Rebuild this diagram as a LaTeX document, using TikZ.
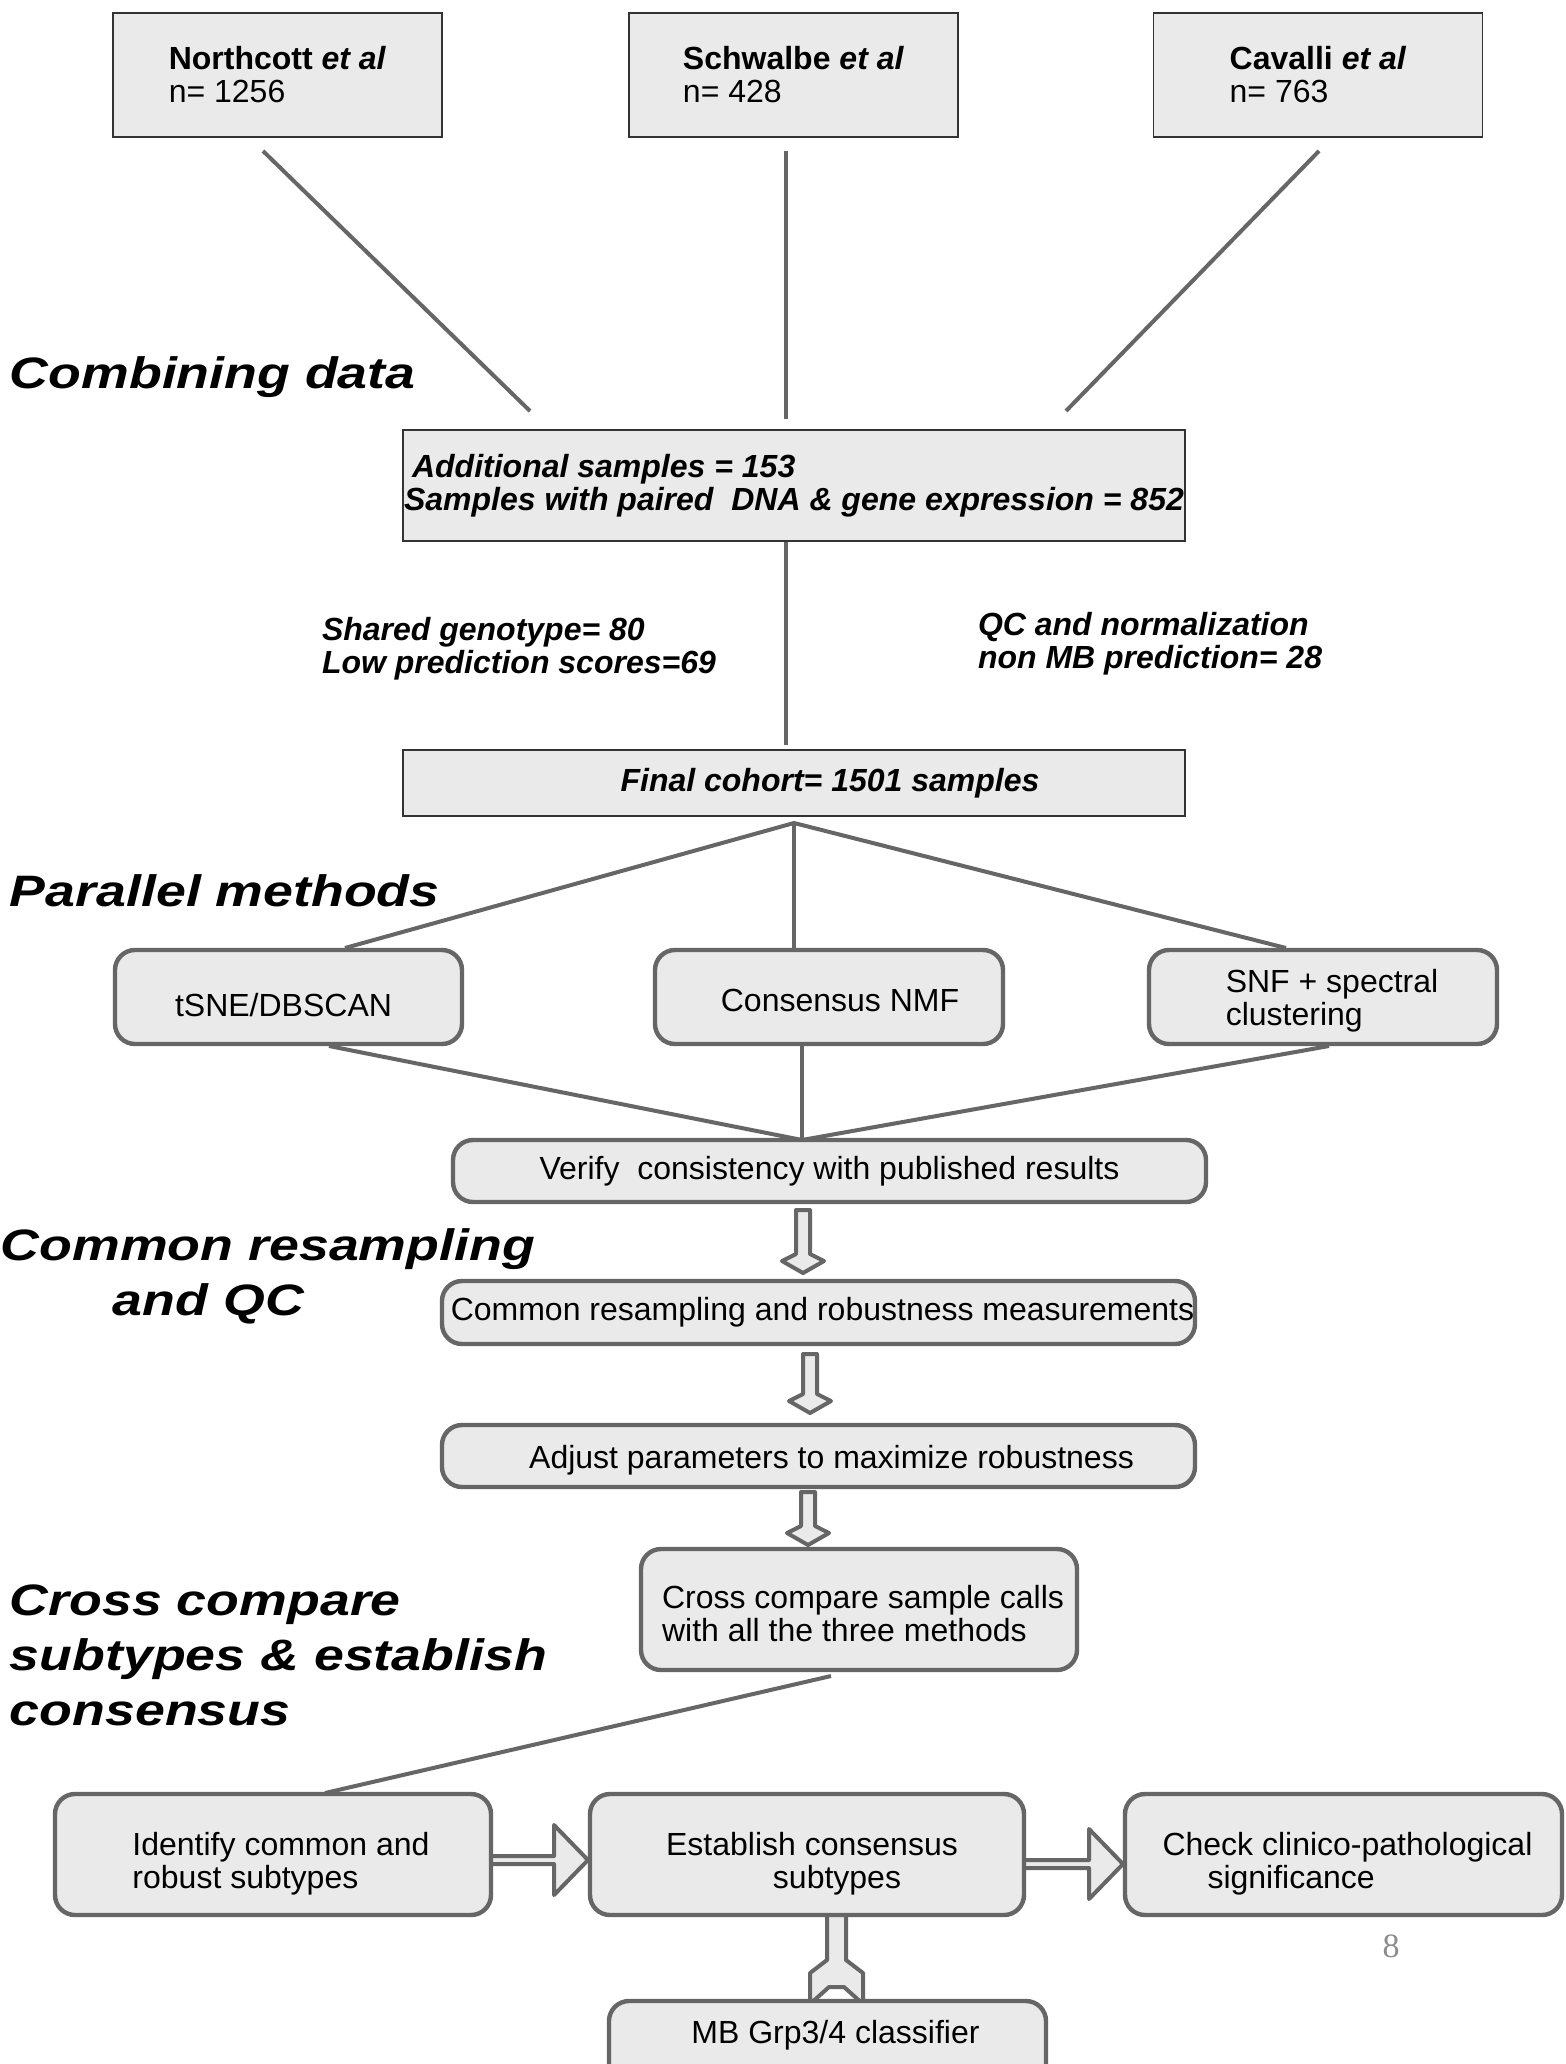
\documentclass[tikz,border=0pt]{standalone}
\usepackage{fontspec}
\setmainfont{Liberation Sans}
\newfontfamily\headfont[FakeStretch=1.22]{Liberation Sans}
\newfontfamily\pagenumfont{Liberation Serif}
\usetikzlibrary{calc, backgrounds}
\definecolor{boxfill}{RGB}{234,234,234}
\definecolor{edgegray}{RGB}{102,102,102}

% hollow block arrows, #1 = tail, #2 = tip
\newcommand{\hollowdown}[2]{%
\filldraw[hollow] ($(#1)+(-7,0)$) -- ($(#2)+(-7,-19)$) -- ($(#2)+(-21,-12)$) -- (#2)
  -- ($(#2)+(21,-12)$) -- ($(#2)+(7,-19)$) -- ($(#1)+(7,0)$) -- cycle;}
\newcommand{\hollowright}[2]{%
\filldraw[hollow] ($(#1)+(0,-4)$) -- ($(#2)+(-34,-4)$) -- ($(#2)+(-34,-35)$) -- (#2)
  -- ($(#2)+(-34,35)$) -- ($(#2)+(-34,4)$) -- ($(#1)+(0,4)$) -- cycle;}
% taller first line, pushes the text down in its box
\newcommand{\downstrut}[1]{\rule{0pt}{#1}}

\begin{document}
\begin{tikzpicture}[x=0.5pt, y=-0.5pt,
  every node/.style={inner sep=0pt, outer sep=0pt},
  body/.style={font=\fontsize{16}{16.5}\selectfont},
  note/.style={font=\bfseries\itshape\fontsize{16}{16.5}\selectfont, align=left},
  heading/.style={font=\headfont\bfseries\itshape\fontsize{22}{27.5}\selectfont, align=left, anchor=north west},
  srcbox/.style={body, draw=black!80, line width=0.8pt, fill=boxfill, minimum width=164.5pt, minimum height=62pt, align=left},
  stepbox/.style={body, draw=edgegray, line width=2.2pt, fill=boxfill, rounded corners=10pt, align=center},
  conn/.style={draw=edgegray, line width=2pt},
  hollow/.style={draw=edgegray, fill=boxfill, line width=2pt, line join=round},
]
\useasboundingbox (0,0) rectangle (1565,2064);

%sources
\node[srcbox] (northcott) at (277.5,75) {\textbf{Northcott \textit{et al}}\\n= 1256};
\node[srcbox] (schwalbe) at (793.5,75) {\textbf{Schwalbe \textit{et al}}\\n= 428};
\node[srcbox] (cavalli) at (1318,75) {\textbf{Cavalli \textit{et al}}\\n= 763};

%combined cohort
\node[srcbox, note, minimum width=391pt, minimum height=55.5pt] (additional) at (794,485.5)
  {\hspace*{4pt}Additional samples = 153\\Samples with paired\ \ DNA \& gene expression = 852};
\node[note, anchor=north west] (dropleft) at (322,617) {Shared genotype= 80\\Low prediction scores=69};
\node[note, anchor=north west] (dropright) at (978,612) {QC and normalization\\non MB prediction= 28};
\node[srcbox, note, minimum width=391pt, minimum height=33pt] (final) at (794,783)
  {\hspace*{36pt}Final cohort= 1501 samples};

%methods
\node[stepbox, minimum width=173.5pt, minimum height=47pt] (tsne) at (288.5,997)
  {\downstrut{19.5pt}tSNE/DBSCAN\hspace*{5pt}};
\node[stepbox, minimum width=174pt, minimum height=47pt] (nmf) at (829,997)
  {\downstrut{14.5pt}\hspace*{11pt}Consensus NMF};
\node[stepbox, minimum width=174pt, minimum height=47pt, align=left] (snf) at (1323,997)
  {\downstrut{15.5pt}\hspace*{9pt}SNF + spectral\\\hspace*{9pt}clustering};
\node[stepbox, minimum width=376.5pt, minimum height=31pt] (verify) at (829.5,1171)
  {Verify\ \ consistency with published results};
\node[stepbox, minimum width=376.5pt, minimum height=31.5pt] (resample) at (818.5,1312.5)
  {\hspace*{4pt}Common resampling and robustness measurements};
\node[stepbox, minimum width=376.5pt, minimum height=31pt] (adjust) at (818.5,1456)
  {\downstrut{15.5pt}\hspace*{13pt}Adjust parameters to maximize robustness};
\node[stepbox, minimum width=218pt, minimum height=60.5pt, align=left] (crosscmp) at (859,1609.5)
  {\downstrut{15.5pt}\hspace*{4pt}Cross compare sample calls\\\hspace*{4pt}with all the three methods};

%consensus
\node[stepbox, minimum width=218pt, minimum height=60.5pt, align=left] (identify) at (273,1854.5)
  {\downstrut{20.5pt}\hspace*{8pt}Identify common and\\\hspace*{8pt}robust subtypes};
\node[stepbox, minimum width=217pt, minimum height=60.5pt] (establish) at (807,1854.5)
  {\downstrut{20.5pt}\hspace*{5pt}Establish consensus\\\hspace*{30pt}subtypes};
\node[stepbox, minimum width=218.5pt, minimum height=60.5pt, align=left] (check) at (1343.5,1854.5)
  {\downstrut{20.5pt}\hspace*{4pt}Check clinico-pathological\\\hspace*{26.5pt}significance};
\node[stepbox, minimum width=218.5pt, anchor=north, text height=11.5pt, text depth=40pt, inner ysep=9.75pt]
  (classifier) at (827.5,2001) {\hspace*{8pt}MB Grp3/4 classifier};

%headings
\node[heading] (hcombine) at (10,357) {Combining data};
\node[heading] (hparallel) at (10,875) {Parallel methods};
\node[heading] (hresample) at (1,1229) {Common resampling\\\hspace*{56pt}and QC};
\node[heading] (hcross) at (10,1585) {Cross compare\\subtypes \& establish\\consensus};

\node[font=\pagenumfont\fontsize{17}{17}\selectfont, text=black!45] (pagenum) at (1391,1946) {8};

\begin{scope}[on background layer]
\fill[white] (0,0) rectangle (1565,2064);
%merging lines
\draw[conn] ($(northcott.south)+(-14.5,14)$) -- ($(additional.north)+(-264,-19)$);
\draw[conn] ($(schwalbe.south)+(-7.5,14)$) -- ($(additional.north)+(-8,-11)$);
\draw[conn] ($(cavalli.south)+(1,14)$) -- ($(additional.north)+(272,-19)$);
\draw[conn] ($(additional.south)+(-8,0)$) -- ($(final.north)+(-8,-5)$);
%fan out and back in
\coordinate (fanout) at ($(final.south)+(0,7)$);
\draw[conn] ($(tsne.north)+(56.5,-2)$) -- (fanout) -- ($(snf.north)+(-37,-2)$);
\draw[conn] (fanout) -- ($(nmf.north)+(-35,0)$);
\coordinate (fanin) at ($(verify.north)+(-27.5,0)$);
\draw[conn] ($(tsne.south)+(40.5,2)$) -- (fanin) -- ($(snf.south)+(6,2)$);
\draw[conn] ($(nmf.south)+(-27,0)$) -- (fanin);
\draw[conn] ($(crosscmp.south)+(-28,6)$) -- ($(identify.north)+(52,-1)$);
%block arrows
\hollowdown{$(verify.south)+(-26.5,8)$}{$(resample.north)+(-15.5,-8)$}
\hollowdown{$(resample.south)+(-8.5,10)$}{$(adjust.north)+(-8.5,-12)$}
\hollowdown{$(adjust.south)+(-10.5,5)$}{$(crosscmp.north)+(-51,-4)$}
\hollowright{$(identify.east)+(-3,5.5)$}{$(establish.west)+(-2,5.5)$}
\hollowright{$(establish.east)+(-3,9.5)$}{$(check.west)+(-2,9.5)$}
\coordinate (gtop) at ($(establish.south)+(29.5,-3)$);
\filldraw[hollow] ($(gtop)+(-9.5,0)$) -- ($(gtop)+(-9.5,48)$) -- ($(gtop)+(-26.5,61)$) -- ($(gtop)+(-26.5,92)$)
  -- ($(gtop)+(-7.5,75)$) -- ($(gtop)+(7.5,75)$) -- ($(gtop)+(26.5,92)$) -- ($(gtop)+(26.5,61)$)
  -- ($(gtop)+(9.5,48)$) -- ($(gtop)+(9.5,0)$) -- cycle;
\end{scope}
\end{tikzpicture}
\end{document}
